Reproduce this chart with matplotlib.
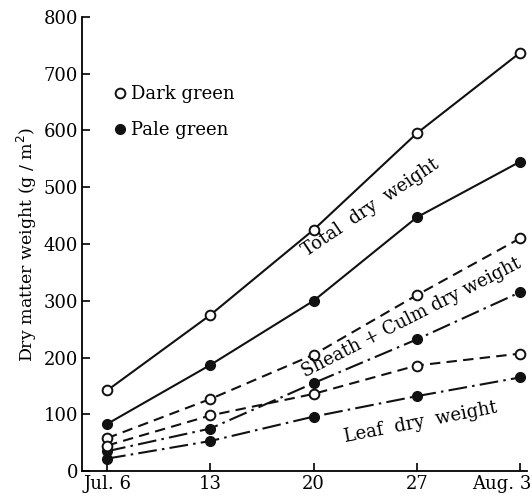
import matplotlib
matplotlib.use("Agg")
import matplotlib.pyplot as plt
from matplotlib.lines import Line2D
from matplotlib.transforms import ScaledTranslation

# =============================================================================
# DATA — dry matter weight (g/m2), sampling dates Jul. 6 to Aug. 3
# =============================================================================
dates = ["Jul. 6", "13", "20", "27", "Aug. 3"]
weeks = [0, 1, 2, 3, 4]

total_dark = [142, 275, 425, 595, 737]
total_pale = [83, 187, 300, 447, 545]
sheath_dark = [58, 127, 205, 310, 410]
sheath_pale = [35, 75, 155, 232, 315]
leaf_dark = [45, 98, 136, 186, 207]
leaf_pale = [22, 53, 96, 132, 165]

plt.rcParams["font.family"] = "DejaVu Serif"
BLACK = "#111111"

fig = plt.figure(figsize=(5.31, 4.98), dpi=100)
ax = fig.add_axes([0.155, 0.054, 0.838, 0.912])

open_kw = dict(marker="o", ms=7, mfc="white", mec=BLACK, mew=1.4, color=BLACK, lw=1.5)
fill_kw = dict(marker="o", ms=7, mfc=BLACK, mec=BLACK, mew=1.0, color=BLACK, lw=1.5)
dashed = (0, (5, 3))
dashdot = (0, (9, 2.5, 1.2, 2.5))

ax.plot(weeks, total_dark, ls="-", zorder=3, **open_kw)
ax.plot(weeks, total_pale, ls="-", zorder=3, **fill_kw)
ax.plot(weeks, sheath_dark, ls=dashed, zorder=3, **open_kw)
ax.plot(weeks, sheath_pale, ls=dashdot, zorder=3, **fill_kw)
ax.plot(weeks, leaf_dark, ls=dashed, zorder=3, **open_kw)
ax.plot(weeks, leaf_pale, ls=dashdot, zorder=3, **fill_kw)

ax.set_xlim(-0.24, 4.07)
ax.set_ylim(0, 800)
ax.set_xticks(weeks)
ax.set_xticklabels(dates)
ax.set_yticks(range(0, 801, 100))
ax.tick_params(direction="in", length=6, width=1.2, labelsize=13, pad=3)
for side in ("top", "right"):
    ax.spines[side].set_visible(False)
for side in ("left", "bottom"):
    ax.spines[side].set_linewidth(1.3)

last = ax.get_xticklabels()[-1]
last.set_ha("right")
last.set_transform(last.get_transform() + ScaledTranslation(11 / 100, 0, fig.dpi_scale_trans))

ax.set_ylabel("Dry matter weight (g / m$^2$)", fontsize=12.5, labelpad=3)

# curve labels
ax.text(2.55, 465, "Total  dry  weight", rotation=34, ha="center", va="center", fontsize=13)
ax.text(2.95, 271, "Sheath + Culm dry weight", rotation=27, ha="center", va="center", fontsize=13)
ax.text(3.04, 86, "Leaf  dry  weight", rotation=11, ha="center", va="center", fontsize=13)

handles = [
    Line2D([], [], ls="none", marker="o", ms=7, mfc="white", mec=BLACK, mew=1.4),
    Line2D([], [], ls="none", marker="o", ms=7, mfc=BLACK, mec=BLACK),
]
ax.legend(handles, ["Dark green", "Pale green"], loc="upper left",
          bbox_to_anchor=(0.035, 0.885), frameon=False, fontsize=13,
          handlelength=0.6, handletextpad=0.35, labelspacing=1.0)

fig.savefig("out.png", dpi=100, facecolor="white")
